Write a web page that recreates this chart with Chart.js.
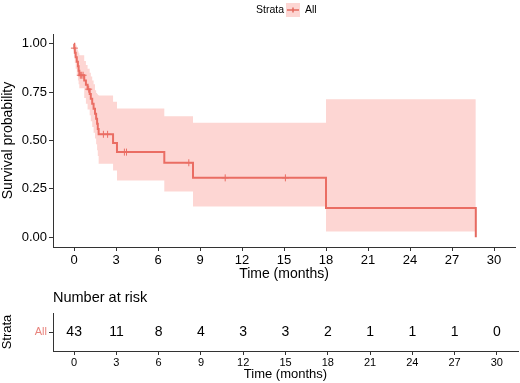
<!DOCTYPE html>
<html>
<head>
<meta charset="utf-8">
<script src="https://cdn.jsdelivr.net/npm/chart.js@4"></script>
<style>
body { margin: 0; background: #fff; }
#wrap { position: relative; width: 520px; height: 383px; }
#kmBox { position: absolute; left: 0; top: 0; width: 520px; height: 285px; }
#riskBox { position: absolute; left: 0; top: 285px; width: 520px; height: 98px; }
</style>
</head>
<body>
<div id="wrap">
  <div id="kmBox"><canvas id="kmChart"></canvas></div>
  <div id="riskBox"><canvas id="riskChart"></canvas></div>
</div>
<script>
// Kaplan-Meier curve
var survTimes = [0, 0.02, 0.06, 0.12, 0.2, 0.28, 0.33, 0.38, 0.73, 0.85, 0.97, 1.12, 1.2, 1.3, 1.4, 1.5, 1.58, 1.65, 1.7, 1.76, 2.79, 3.07, 6.45, 8.5, 18.0, 28.7];
var survProb = [1.0, 0.977, 0.953, 0.93, 0.907, 0.884, 0.86, 0.837, 0.81, 0.788, 0.765, 0.74, 0.715, 0.69, 0.664, 0.638, 0.612, 0.586, 0.56, 0.532, 0.487, 0.44, 0.385, 0.307, 0.152, 0.0];
var upperCI = [1.0, 1.0, 1.0, 0.99, 0.97, 0.96, 0.95, 0.94, 0.91, 0.89, 0.87, 0.85, 0.83, 0.81, 0.79, 0.76, 0.745, 0.74, 0.735, 0.733, 0.70, 0.665, 0.625, 0.592, 0.713, 0.713];
var lowerCI = [1.0, 0.93, 0.90, 0.87, 0.84, 0.81, 0.79, 0.77, 0.72, 0.69, 0.66, 0.63, 0.60, 0.57, 0.54, 0.51, 0.48, 0.45, 0.42, 0.38, 0.345, 0.293, 0.237, 0.159, 0.03, 0.03];

// censored observations
var censorTimes = [0.03, 0.45, 0.55, 0.65, 1.05, 2.1, 2.4, 3.6, 3.75, 8.2, 10.8, 15.1];
var censorProb = [0.977, 0.837, 0.837, 0.837, 0.765, 0.532, 0.532, 0.44, 0.44, 0.385, 0.307, 0.307];

// number at risk table
var riskTimes = [0, 3, 6, 9, 12, 15, 18, 21, 24, 27, 30];
var riskCounts = [43, 11, 8, 4, 3, 3, 2, 1, 1, 1, 0];

var xTicks = [0, 3, 6, 9, 12, 15, 18, 21, 24, 27, 30];
var yTicks = [0, 0.25, 0.5, 0.75, 1.0];

var FONT = "'Liberation Sans', Arial, sans-serif";
var lineRed = '#E4695F';
var bandFill = 'rgba(248,118,109,0.3)';
var axisCol = '#333';

Chart.defaults.font.family = FONT;
Chart.defaults.color = '#000';

function pts(xs, ys) {
    return xs.map(function (x, i) { return { x: x, y: ys[i] }; });
}

var legendPlugin = {
    id: 'kmLegend',
    afterDraw: function (chart) {
        var c = chart.ctx;
        c.save();
        c.font = '10.5px ' + FONT;
        c.textBaseline = 'middle';
        c.fillStyle = '#000';
        c.fillText('Strata', 256, 10);
        c.fillStyle = bandFill;
        c.fillRect(286, 3, 14, 14);
        c.strokeStyle = lineRed;
        c.lineWidth = 1.5;
        c.beginPath();
        c.moveTo(287, 10);
        c.lineTo(299, 10);
        c.moveTo(293, 7.5);
        c.lineTo(293, 12.5);
        c.stroke();
        c.fillStyle = '#000';
        c.fillText('All', 305, 10);
        c.restore();
    }
};

var kmCtx = document.getElementById('kmChart').getContext('2d');
var kmChart = new Chart(kmCtx, {
    type: 'scatter',
    data: {
        datasets: [
            { label: 'lower', data: pts(survTimes, lowerCI), showLine: true, stepped: true,
              borderColor: 'transparent', borderWidth: 0, pointRadius: 0, fill: false },
            { label: 'upper', data: pts(survTimes, upperCI), showLine: true, stepped: true,
              borderColor: 'transparent', borderWidth: 0, pointRadius: 0, fill: '-1', backgroundColor: bandFill },
            { label: 'All', data: pts(survTimes, survProb), showLine: true, stepped: true,
              borderColor: lineRed, borderWidth: 2, pointRadius: 0, fill: false },
            { label: 'censor', data: pts(censorTimes, censorProb), showLine: false,
              pointStyle: 'cross', pointRadius: 3.5, borderColor: lineRed, borderWidth: 1 }
        ]
    },
    options: {
        responsive: true,
        maintainAspectRatio: false,
        animation: false,
        layout: { padding: { top: 34, right: 2, left: 0, bottom: 0 } },
        plugins: { legend: { display: false }, tooltip: { enabled: false } },
        scales: {
            x: {
                type: 'linear', min: -1.5, max: 31.5,
                afterBuildTicks: function (s) { s.ticks = xTicks.map(function (v) { return { value: v }; }); },
                afterFit: function (s) { s.height = 38; },
                grid: { drawOnChartArea: false, color: axisCol, tickLength: 4 },
                border: { color: axisCol, width: 1 },
                ticks: { font: { size: 13 }, color: '#000', padding: 2, maxRotation: 0, autoSkip: false },
                title: { display: true, text: 'Time (months)', font: { size: 14 }, color: '#000', padding: { top: 0, bottom: 2 } }
            },
            y: {
                min: -0.05, max: 1.05,
                afterBuildTicks: function (s) { s.ticks = yTicks.map(function (v) { return { value: v }; }); },
                afterFit: function (s) { s.width = 53; },
                grid: { drawOnChartArea: false, color: axisCol, tickLength: 4 },
                border: { color: axisCol, width: 1 },
                ticks: { font: { size: 13 }, color: '#000', padding: 2, autoSkip: false,
                         callback: function (v) { return Number(v).toFixed(2); } },
                title: { display: true, text: 'Survival probability', font: { size: 14 }, color: '#000', padding: { top: 0, bottom: 2 } }
            }
        }
    },
    plugins: [legendPlugin]
});

var riskText = {
    id: 'riskText',
    afterDatasetsDraw: function (chart) {
        var c = chart.ctx;
        var xs = chart.scales.x, ys = chart.scales.y;
        c.save();
        c.fillStyle = '#000';
        c.textBaseline = 'middle';
        c.textAlign = 'center';
        c.font = '14px ' + FONT;
        riskTimes.forEach(function (t, i) {
            c.fillText(String(riskCounts[i]), xs.getPixelForValue(t), ys.getPixelForValue(0));
        });
        c.textAlign = 'left';
        c.font = '14.5px ' + FONT;
        c.fillText('Number at risk', chart.chartArea.left, 13);
        c.restore();
    }
};

var riskCtx = document.getElementById('riskChart').getContext('2d');
var riskChart = new Chart(riskCtx, {
    type: 'scatter',
    data: {
        datasets: [{ label: 'All', data: riskTimes.map(function (t) { return { x: t, y: 0 }; }), pointRadius: 0 }]
    },
    options: {
        responsive: true,
        maintainAspectRatio: false,
        animation: false,
        layout: { padding: { top: 28, right: 2, left: 0, bottom: 0 } },
        plugins: { legend: { display: false }, tooltip: { enabled: false } },
        scales: {
            x: {
                type: 'linear', min: -1.5, max: 31.5,
                afterBuildTicks: function (s) { s.ticks = xTicks.map(function (v) { return { value: v }; }); },
                afterFit: function (s) { s.height = 32; },
                grid: { drawOnChartArea: false, color: axisCol, tickLength: 4 },
                border: { color: axisCol, width: 1 },
                ticks: { font: { size: 11 }, color: '#000', padding: 1, maxRotation: 0, autoSkip: false },
                title: { display: true, text: 'Time (months)', font: { size: 13 }, color: '#000', padding: { top: 0, bottom: 1 } }
            },
            y: {
                type: 'category', labels: ['All'], offset: true,
                afterFit: function (s) { s.width = 53; },
                grid: { drawOnChartArea: false, color: axisCol, tickLength: 4 },
                border: { color: axisCol, width: 1 },
                ticks: { font: { size: 11 }, color: '#E8837C', padding: 2 },
                title: { display: true, text: 'Strata', font: { size: 13 }, color: '#000', padding: { top: 0, bottom: 2 } }
            }
        }
    },
    plugins: [riskText]
});
</script>
</body>
</html>
